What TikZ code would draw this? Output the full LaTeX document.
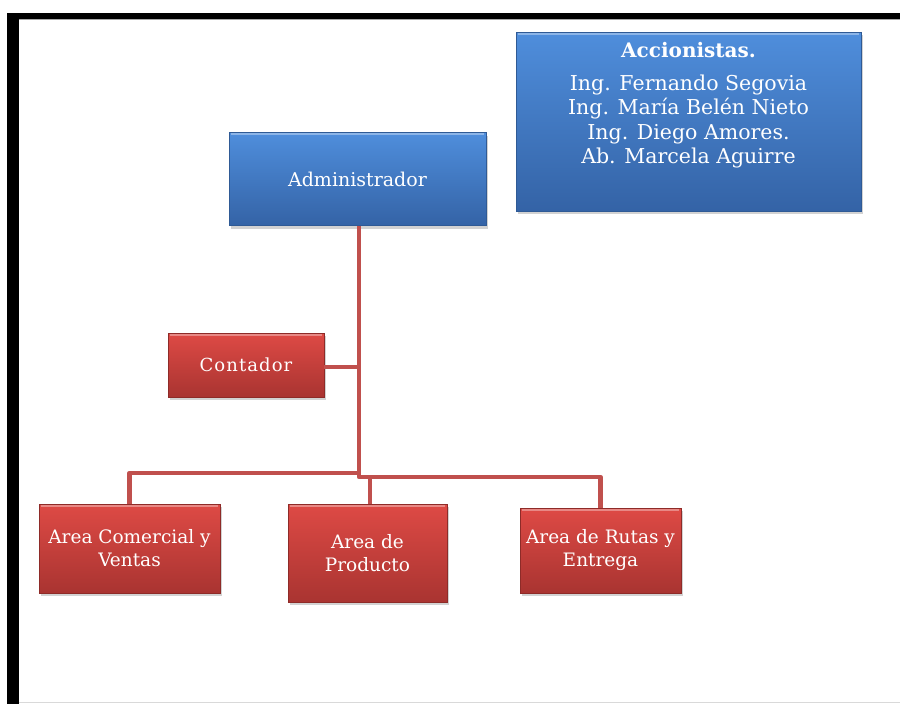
\documentclass[tikz,border=0pt]{standalone}
\usepackage{fontspec}
\setmainfont{DejaVu Serif}
\usetikzlibrary{shadows}
\definecolor{bluetop}{HTML}{4F8EDC}
\definecolor{bluebot}{HTML}{3463A6}
\definecolor{blueedge}{HTML}{2F5A95}
\definecolor{redtop}{HTML}{DE4A45}
\definecolor{redbot}{HTML}{A93431}
\definecolor{rededge}{HTML}{8E2B28}
\definecolor{linkc}{HTML}{C0504D}
\tikzset{
  bluebox/.style={draw=blueedge, line width=0.8pt, top color=bluetop, bottom color=bluebot,
    drop shadow={shadow xshift=2pt, shadow yshift=-3pt, opacity=0.35},
    text=white, align=center, inner sep=0pt},
  redbox/.style={draw=rededge, line width=0.8pt, top color=redtop, bottom color=redbot,
    drop shadow={shadow xshift=2pt, shadow yshift=-3pt, opacity=0.35},
    text=white, align=center, inner sep=0pt, font=\fontsize{18.5}{23}\selectfont},
  link/.style={draw=linkc, line width=4.5pt, line join=round},
  bevel/.style={draw=white, opacity=0.35, line width=2pt}
}
\begin{document}
\begin{tikzpicture}[x=1pt,y=-1pt]
\useasboundingbox (0,0) rectangle (900,704);
\fill[white] (0,0) rectangle (900,704);
% frame
\fill[black] (7,13) rectangle (900,19);
\fill[black] (7,13) rectangle (19,704);
\draw[gray!70, line width=0.6pt] (19,19.3) -- (900,19.3);
\draw[gray!30, line width=0.8pt] (19,702) -- (900,702);
% connectors
\coordinate (j1) at (359,367);
\coordinate (j2) at (359,477);
\coordinate (jl) at (359,473);
% boxes
\node[bluebox, minimum width=345pt, minimum height=179pt] (acc) at (688.5,121.5) {};
\node[text=white, align=center, font=\fontsize{20.5}{24.3}\selectfont] (acctext) at (688.5,105)
  {{\fontsize{20}{22}\selectfont\bfseries Accionistas.}\\[9pt]
   Ing. Fernando Segovia\\ Ing. María Belén Nieto\\ Ing. Diego Amores.\\ Ab. Marcela Aguirre};
\node[bluebox, minimum width=257pt, minimum height=93pt, font=\fontsize{19}{22}\selectfont] (adm) at (357.5,179) {Administrador};
\node[redbox, minimum width=156pt, minimum height=64pt, font=\fontsize{18}{22}\selectfont\addfontfeature{LetterSpace=6}] (cont) at (246,365) {Contador};
\node[redbox, minimum width=181pt, minimum height=89pt] (com) at (129.5,548.5) {Area Comercial y\\Ventas};
\node[redbox, minimum width=159pt, minimum height=98pt] (prod) at (367.5,553) {Area de\\Producto};
\node[redbox, minimum width=161pt, minimum height=85pt] (rut) at (600.5,550.5) {Area de Rutas y\\Entrega};
\foreach \b in {acc,adm,cont,com,prod,rut}{
  \draw[bevel] ([xshift=2pt,yshift=-2pt]\b.north west) -- ([xshift=-2pt,yshift=-2pt]\b.north east);
}
\draw[link] (adm.south -| j1) -- (j2) -- (j2 -| rut.north) -- (rut.north);
\draw[link] (cont.east |- j1) -- (j1);
\draw[link] (com.north) -- (com.north |- jl) -- (jl);
\draw[link] (prod.north -| 370,0) -- (370,477);
\end{tikzpicture}
\end{document}
